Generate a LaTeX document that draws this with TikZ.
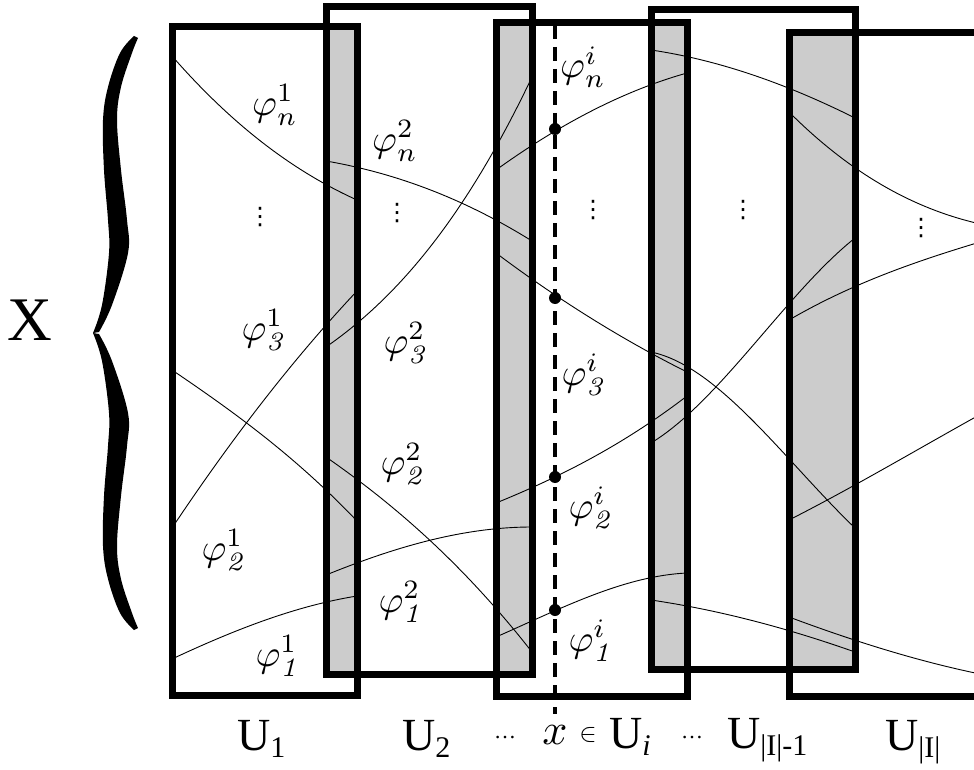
\documentclass[tikz,border=0pt]{standalone}
\usepackage{graphicx}
\usepackage{fontspec}
\newfontfamily\tnr{Liberation Serif}
\newfontfamily\dvs{DejaVu Sans}
\newcommand{\ulsub}[1]{\raisebox{-7pt}{\fontsize{30}{30}\selectfont #1}}
\newcommand{\phis}[2]{\scalebox{3.8}{$\varphi^{#1}_{#2}$}}

\begin{document}
\begin{tikzpicture}[x=1pt,y=-1pt,
  chart/.style={line width=7pt},
  curve/.style={line width=0.9pt},
  lap/.style={fill=black!20},
  phi/.style={inner sep=0pt},
  ulab/.style={inner sep=0pt, anchor=base west, font=\tnr\fontsize{46}{48}\selectfont},
  dots/.style={inner sep=0pt, font=\dvs\fontsize{24}{24}\selectfont}]
  \useasboundingbox (0,0) rectangle (974,770);
  \clip (0,0) rectangle (974,770);

  \fill[lap] (326,27) rectangle (357,674);
  \fill[lap] (496,23) rectangle (532,674);
  \fill[lap] (651,23) rectangle (687,669);
  \fill[lap] (789,33) rectangle (855,669);

  \draw[curve] (172,56) .. controls (234,127) and (295,172) .. (357,200);
  \draw[curve] (172,528) .. controls (234,435) and (295,357) .. (357,291);
  \draw[curve] (172,370) .. controls (234,412) and (295,456) .. (357,521);
  \draw[curve] (172,659) .. controls (234,630) and (295,606) .. (357,596);

  \draw[curve] (326,161) .. controls (395,173) and (463,198) .. (532,241);
  \draw[curve] (326,347) .. controls (395,299) and (463,222) .. (532,77);
  \draw[curve] (326,457) .. controls (395,505) and (463,564) .. (532,652);
  \draw[curve] (326,575) .. controls (395,547) and (463,527) .. (532,527);

  \draw[curve] (496,170) .. controls (560,124) and (623,91) .. (687,73);
  \draw[curve] (496,253) .. controls (560,301) and (623,340) .. (687,372);
  \draw[curve] (496,503) .. controls (560,477) and (623,445) .. (687,396);
  \draw[curve] (496,637) .. controls (560,609) and (623,576) .. (687,573);

  \draw[curve] (651,50) .. controls (719,60) and (787,84) .. (855,118);
  \draw[curve] (651,443) .. controls (719,402) and (787,292) .. (855,238);
  \draw[curve] (651,352) .. controls (719,366) and (787,463) .. (855,528);
  \draw[curve] (651,600) .. controls (719,610) and (787,628) .. (855,652);

  \draw[curve] (789,112) .. controls (856,179) and (923,213) .. (990,226);
  \draw[curve] (789,320) .. controls (856,281) and (923,259) .. (990,239);
  \draw[curve] (789,520) .. controls (856,486) and (923,446) .. (990,409);
  \draw[curve] (789,617) .. controls (856,642) and (923,663) .. (990,676);

  \draw[chart] (172,27) rectangle (357,695);
  \draw[chart] (326,7) rectangle (532,674);
  \draw[chart] (496,23) rectangle (687,696);
  \draw[chart] (651,10) rectangle (855,669);
  \draw[chart] (789,33) rectangle (995,696);

  \coordinate (xtop) at (555,25);
  \coordinate (xbot) at (555,714);
  \draw[line width=3.5pt, dash pattern=on 14pt off 8pt] (xtop) -- (xbot);
  \coordinate (pt1) at (555,610);
  \coordinate (pt2) at (555,477);
  \coordinate (pt3) at (555,298);
  \coordinate (ptn) at (555,129);
  \foreach \p in {pt1,pt2,pt3,ptn}
    \fill (\p) circle[radius=6pt];

  \fill plot[smooth, tension=0.6] coordinates {(134,36) (120,53) (108,87) (103,120) (104,170) (108,220) (109,253) (102,305) (93,333)}
    -- plot[smooth, tension=0.6] coordinates {(99,332) (112,305) (128,253) (127,220) (121,170) (117,120) (121,87) (132,53) (138,38)} -- cycle;
  \fill plot[smooth, tension=0.6] coordinates {(93,333) (102,361) (109,413) (108,446) (104,496) (103,546) (108,579) (120,613) (134,630)}
    -- plot[smooth, tension=0.6] coordinates {(138,628) (132,613) (121,579) (117,546) (121,496) (127,446) (128,413) (112,361) (99,334)} -- cycle;
  \node[inner sep=0pt, font=\tnr\fontsize{62}{64}\selectfont] (xset) at (30,320) {X};

  \node[phi] (p1n) at (275,105) {\phis{1}{n}};
  \node[phi] (p13) at (263,330) {\phis{1}{\mathit{3}}};
  \node[phi] (p12) at (223,550) {\phis{1}{\mathit{2}}};
  \node[phi] (p11) at (277,656) {\phis{1}{\mathit{1}}};
  \node[phi] (p2n) at (395,141) {\phis{2}{n}};
  \node[phi] (p23) at (405,343) {\phis{2}{\mathit{3}}};
  \node[phi] (p22) at (402,464) {\phis{2}{\mathit{2}}};
  \node[phi] (p21) at (400,602) {\phis{2}{\mathit{1}}};
  \node[phi] (pin) at (583,67) {\phis{i}{n}};
  \node[phi] (pi3) at (583,375) {\phis{i}{\mathit{3}}};
  \node[phi] (pi2) at (590,508) {\phis{i}{\mathit{2}}};
  \node[phi] (pi1) at (590,641) {\phis{i}{\mathit{1}}};

  \node[dots] (vd1) at (260,217) {⋮};
  \node[dots] (vd2) at (397,213) {⋮};
  \node[dots] (vdi) at (593,210) {⋮};
  \node[dots] (vdl) at (743,210) {⋮};
  \node[dots] (vdm) at (921,228) {⋮};

  \node[ulab] (u1) at (237,750) {U\ulsub{1}};
  \node[ulab] (u2) at (402,750) {U\ulsub{2}};
  \node[inner sep=0pt, font=\tnr\fontsize{22}{22}\selectfont] (ld1) at (505,738) {…};
  \node[inner sep=0pt, anchor=base] (xpt) at (555,744) {\scalebox{4.4}{$x$}};
  \node[inner sep=0pt] (elem) at (588,735) {\scalebox{2.6}{$\in$}};
  \node[ulab] (ui) at (609,748) {U\ulsub{\itshape i}};
  \node[inner sep=0pt, font=\tnr\fontsize{22}{22}\selectfont] (ld2) at (692,738) {…};
  \node[ulab] (ul) at (727,748) {U\ulsub{|I|-1}};
  \node[ulab] (um) at (885,750) {U\ulsub{|I|}};
\end{tikzpicture}
\end{document}
